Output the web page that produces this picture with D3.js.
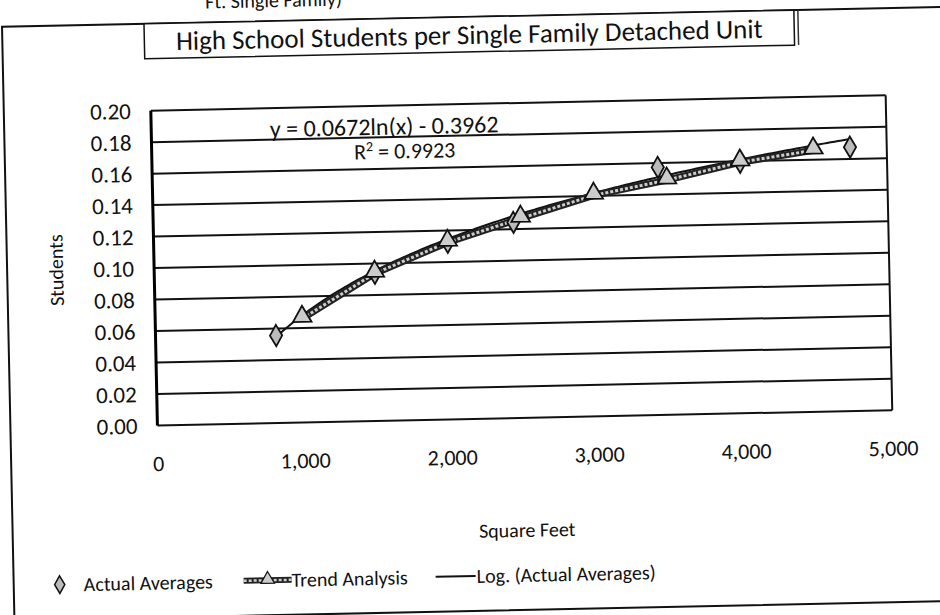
<!DOCTYPE html>
<html>
<head>
<meta charset="utf-8">
<script src="https://cdn.jsdelivr.net/npm/d3@7"></script>
<style>
  body { margin: 0; background: #fff; }
  svg text { font-family: Carlito, Lato, "Open Sans", sans-serif; fill: #111; }
</style>
</head>
<body>
<div id="chart"></div>
<script>
// values
const actualSqft = [820, 1500, 2000, 2450, 3440, 4000, 4750]
const actualStudents = [0.0556, 0.0937, 0.1124, 0.1243, 0.1573, 0.1594, 0.1675]
const trendSqft = [1000, 1500, 2000, 2500, 3000, 3500, 4000, 4500]
const trendStudents = [0.066, 0.0937, 0.1124, 0.1267, 0.1403, 0.149, 0.1594, 0.166]
const logFit = [0.0672, -0.3962] // y = a ln(x) + b, printed on the chart
const xTicks = [0, 1000, 2000, 3000, 4000, 5000]
const yTicks = [0, 0.02, 0.04, 0.06, 0.08, 0.10, 0.12, 0.14, 0.16, 0.18, 0.20]
const legendNames = ["Actual Averages", "Trend Analysis", "Log. (Actual Averages)"]

const W = 940, H = 615
const plot = { left: 155, right: 890, top: 104, bottom: 419 }

const svg = d3.select("#chart").append("svg")
    .attr("width", W)
    .attr("height", H)

// the scan is slightly crooked, so the whole chart is tilted a little
const g = svg.append("g")
    .attr("transform", "rotate(-1.2," + W / 2 + "," + H / 2 + ")")

const x = d3.scaleLinear().domain([0, 5000]).range([plot.left, plot.right])
const y = d3.scaleLinear().domain([0, 0.2]).range([plot.bottom, plot.top])

//cut-off text above the chart
g.append("text")
    .attr("x", 280).attr("y", 3)
    .attr("text-anchor", "middle")
    .style("font-size", "20px")
    .text("Ft. Single Family)")

//outer frame
g.append("rect")
    .attr("x", 8).attr("y", 17)
    .attr("width", 960).attr("height", 594)
    .attr("fill", "none")
    .attr("stroke", "#111")
    .attr("stroke-width", 2)

//title box
const title = g.append("g")
title.append("rect")
    .attr("x", 150).attr("y", 17)
    .attr("width", 650).attr("height", 35)
    .attr("fill", "#fff")
    .attr("stroke", "#111")
    .attr("stroke-width", 1.5)
title.append("line")
    .attr("x1", 804).attr("x2", 804).attr("y1", 17).attr("y2", 52)
    .attr("stroke", "#333").attr("stroke-width", 1.5)
title.append("text")
    .attr("x", 475).attr("y", 44)
    .attr("text-anchor", "middle")
    .style("font-size", "27px")
    .text("High School Students per Single Family Detached Unit")

//gridlines
g.append("g")
    .selectAll("line")
    .data(yTicks)
    .enter().append("line")
    .attr("x1", plot.left).attr("x2", plot.right)
    .attr("y1", d => y(d)).attr("y2", d => y(d))
    .attr("stroke", "#111")
    .attr("stroke-width", 2)

//plot border left / right
g.append("line")
    .attr("x1", plot.left).attr("x2", plot.left)
    .attr("y1", plot.top).attr("y2", plot.bottom)
    .attr("stroke", "#000").attr("stroke-width", 3)
g.append("line")
    .attr("x1", plot.right).attr("x2", plot.right)
    .attr("y1", plot.top).attr("y2", plot.bottom)
    .attr("stroke", "#111").attr("stroke-width", 2)

//axes
const yAxis = g.append("g")
    .attr("transform", "translate(" + plot.left + ",0)")
    .call(d3.axisLeft(y).tickValues(yTicks).tickFormat(d3.format(".2f")).tickSize(0).tickPadding(20))
yAxis.select(".domain").remove()
yAxis.selectAll("text").style("font-size", "23px")

const xAxis = g.append("g")
    .attr("transform", "translate(0," + plot.bottom + ")")
    .call(d3.axisBottom(x).tickValues(xTicks).tickFormat(d3.format(",")).tickSize(0).tickPadding(30))
xAxis.select(".domain").remove()
xAxis.selectAll("text").style("font-size", "22px")

//axis titles
g.append("text")
    .attr("transform", "translate(64," + (plot.top + plot.bottom) / 2 + ")rotate(-90)")
    .attr("text-anchor", "middle")
    .style("font-size", "20px")
    .text("Students")
g.append("text")
    .attr("x", (plot.left + plot.right) / 2).attr("y", 538)
    .attr("text-anchor", "middle")
    .style("font-size", "20px")
    .text("Square Feet")

//log trendline of the actual averages
const fitX = d3.range(d3.min(actualSqft), d3.max(actualSqft) + 1, 25)
const line = d3.line().x(d => x(d[0])).y(d => y(d[1]))
g.append("path")
    .datum(fitX.map(v => [v, logFit[0] * Math.log(v) + logFit[1]]))
    .attr("d", line)
    .attr("fill", "none")
    .attr("stroke", "#111")
    .attr("stroke-width", 2)

//trend analysis series: thick speckled line
const trendPts = trendSqft.map((v, i) => [v, trendStudents[i]])
g.append("path")
    .datum(trendPts)
    .attr("d", line)
    .attr("fill", "none")
    .attr("stroke", "#222")
    .attr("stroke-width", 7)
g.append("path")
    .datum(trendPts)
    .attr("d", line)
    .attr("fill", "none")
    .attr("stroke", "#ccc")
    .attr("stroke-width", 3)
    .attr("stroke-dasharray", "3,2")

const tri = d3.symbol().type(d3.symbolTriangle).size(150)
const dia = d3.symbol().type(d3.symbolDiamond).size(130)

//actual averages diamonds
g.append("g")
    .selectAll("path")
    .data(actualSqft)
    .enter().append("path")
    .attr("d", dia)
    .attr("transform", (d, i) => "translate(" + x(d) + "," + y(actualStudents[i]) + ")")
    .attr("fill", "#bbb")
    .attr("stroke", "#111")
    .attr("stroke-width", 1.8)

//trend analysis triangles
g.append("g")
    .selectAll("path")
    .data(trendPts)
    .enter().append("path")
    .attr("d", tri)
    .attr("transform", d => "translate(" + x(d[0]) + "," + (y(d[1]) - 2) + ")")
    .attr("fill", "#ccc")
    .attr("stroke", "#111")
    .attr("stroke-width", 1.8)

//equation label
g.append("text")
    .attr("x", 388).attr("y", 133)
    .attr("text-anchor", "middle")
    .style("font-size", "24px")
    .text("y = 0.0672ln(x) - 0.3962")
const r2 = g.append("text")
    .attr("x", 408).attr("y", 157)
    .attr("text-anchor", "middle")
    .style("font-size", "22px")
r2.append("tspan").text("R")
r2.append("tspan").attr("dy", -8).style("font-size", "14px").text("2")
r2.append("tspan").attr("dy", 8).text(" = 0.9923")

//legend
const ly = 576
const legend = g.append("g")
legend.append("path")
    .attr("d", d3.symbol().type(d3.symbolDiamond).size(90))
    .attr("transform", "translate(54," + ly + ")")
    .attr("fill", "#bbb").attr("stroke", "#111").attr("stroke-width", 1.5)
legend.append("text").attr("x", 78).attr("y", ly + 7).style("font-size", "20px").text(legendNames[0])
legend.append("line").attr("x1", 238).attr("x2", 286).attr("y1", ly).attr("y2", ly)
    .attr("stroke", "#222").attr("stroke-width", 6)
legend.append("line").attr("x1", 238).attr("x2", 286).attr("y1", ly).attr("y2", ly)
    .attr("stroke", "#ccc").attr("stroke-width", 2.5).attr("stroke-dasharray", "3,2")
legend.append("path")
    .attr("d", d3.symbol().type(d3.symbolTriangle).size(80))
    .attr("transform", "translate(262," + (ly - 1) + ")")
    .attr("fill", "#ccc").attr("stroke", "#111").attr("stroke-width", 1.2)
legend.append("text").attr("x", 286).attr("y", ly + 7).style("font-size", "20px").text(legendNames[1])
legend.append("line").attr("x1", 430).attr("x2", 470).attr("y1", ly).attr("y2", ly)
    .attr("stroke", "#111").attr("stroke-width", 2)
legend.append("text").attr("x", 471).attr("y", ly + 7).style("font-size", "20px").text(legendNames[2])
</script>
</body>
</html>
